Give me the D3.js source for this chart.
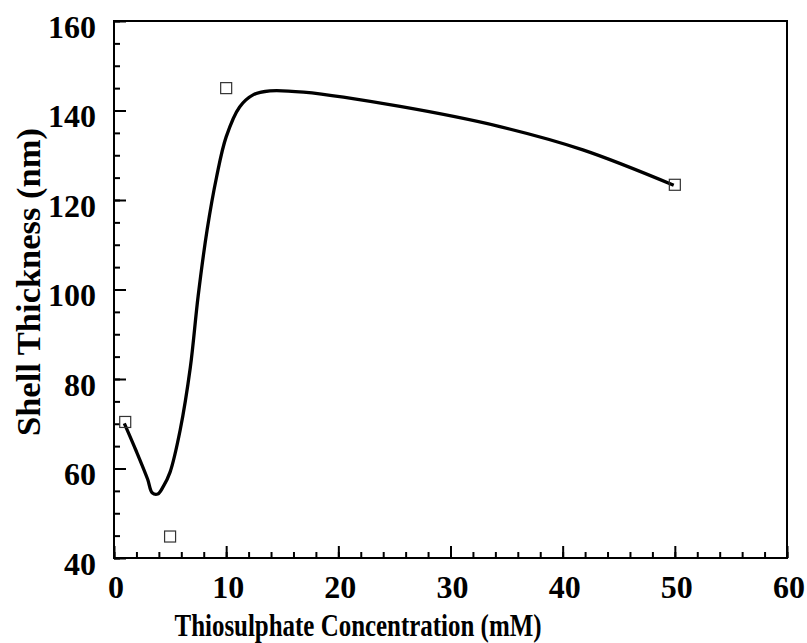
<!DOCTYPE html>
<html><head><meta charset="utf-8">
<script src="https://cdn.jsdelivr.net/npm/d3@7"></script>
<style>
html,body{margin:0;padding:0;background:#fff;}
svg{display:block;}
svg text{font-family:"Liberation Serif","Times New Roman",serif !important;font-weight:bold;fill:#000;}
</style></head>
<body>
<script>
// Measured data points
const pointX = [1, 5, 10, 50];
const pointY = [70.4, 44.8, 145, 123.4];
// Fitted smooth curve
const fitX = [0.92, 2.0, 3.0, 3.4, 3.9, 4.4, 5.0, 5.9, 6.8, 7.5, 8.3, 9.15, 10.0, 11.2, 12.4, 13.9, 16.9, 25.5, 34.4, 41.8, 49.9];
const fitY = [70.1, 63.8, 57.6, 54.6, 54.3, 56.0, 59.2, 68.6, 82.5, 98.5, 113.3, 125.2, 134.1, 140.8, 143.5, 144.4, 144.1, 140.9, 136.4, 131.2, 123.3];
// Ticks
const xMajor = [0, 10, 20, 30, 40, 50, 60];
const xMinor = d3.range(0, 61, 2);
const yMajor = [40, 60, 80, 100, 120, 140, 160];
const yMinor = d3.range(40, 161, 5);
const xTitle = "Thiosulphate Concentration (mM)";
const yTitle = "Shell Thickness (nm)";

const W = 807, H = 643;
const L = 114, R = 787, T = 21, B = 558;
const FONT = '"Liberation Serif","Times New Roman",serif';

const svg = d3.select("body").append("svg").attr("width", W).attr("height", H);
const x = d3.scaleLinear().domain([0, 60]).range([L, R]);
const y = d3.scaleLinear().domain([40, 160]).range([B, T]);

// minor ticks
svg.append("g").attr("transform", `translate(0,${B})`)
  .call(d3.axisBottom(x).tickValues(xMinor).tickSize(-6).tickFormat(""))
  .call(g => { g.select(".domain").remove(); g.selectAll("line").attr("stroke", "#000").attr("stroke-width", 2); });
svg.append("g").attr("transform", `translate(${L},0)`)
  .call(d3.axisLeft(y).tickValues(yMinor).tickSize(-6).tickFormat(""))
  .call(g => { g.select(".domain").remove(); g.selectAll("line").attr("stroke", "#000").attr("stroke-width", 2); });

// major ticks + labels
svg.append("g").attr("transform", `translate(0,${B})`)
  .call(d3.axisBottom(x).tickValues(xMajor).tickSizeInner(-12).tickSizeOuter(0).tickPadding(0).tickFormat(d3.format("d")))
  .call(g => {
    g.attr("font-family", FONT).attr("font-size", 32).attr("font-weight", "bold");
    g.select(".domain").remove();
    g.selectAll("line").attr("stroke", "#000").attr("stroke-width", 2);
    g.selectAll("text").attr("y", 40).attr("dy", null).attr("dx", 1.5)
      .style("font-family", FONT).style("font-size", "32px").style("font-weight", "bold").attr("fill", "#000");
  });
svg.append("g").attr("transform", `translate(${L},0)`)
  .call(d3.axisLeft(y).tickValues(yMajor).tickSizeInner(-12).tickSizeOuter(0).tickPadding(0).tickFormat(d3.format("d")))
  .call(g => {
    g.attr("font-family", FONT).attr("font-size", 32).attr("font-weight", "bold");
    g.select(".domain").remove();
    g.selectAll("line").attr("stroke", "#000").attr("stroke-width", 2);
    g.selectAll("text").attr("x", -18).attr("dy", "0.5em")
      .style("font-family", FONT).style("font-size", "32px").style("font-weight", "bold").attr("fill", "#000");
  });

// frame
svg.append("rect").attr("x", L).attr("y", T).attr("width", R - L).attr("height", B - T)
  .attr("fill", "none").attr("stroke", "#000").attr("stroke-width", 2);

// curve
const fit = fitX.map((d, i) => [d, fitY[i]]);
svg.append("path").datum(fit)
  .attr("d", d3.line().x(d => x(d[0])).y(d => y(d[1])).curve(d3.curveCatmullRom.alpha(0.5)))
  .attr("fill", "none").attr("stroke", "#000").attr("stroke-width", 3.3).attr("stroke-linejoin", "round");

// points
const pts = pointX.map((d, i) => [d, pointY[i]]);
svg.append("g").selectAll("rect").data(pts).join("rect")
  .attr("x", d => x(d[0]) - 5.5).attr("y", d => y(d[1]) - 5.5)
  .attr("width", 11).attr("height", 11)
  .attr("fill", "none").attr("stroke", "#333").attr("stroke-width", 1.2);

// titles
svg.append("text").attr("x", 358).attr("y", 636).attr("text-anchor", "middle")
  .attr("textLength", 367).attr("lengthAdjust", "spacingAndGlyphs")
  .style("font-family", FONT).style("font-size", "32px").text(xTitle);
svg.append("text").attr("transform", "translate(40,282) rotate(-90)").attr("text-anchor", "middle")
  .attr("textLength", 308).attr("lengthAdjust", "spacingAndGlyphs")
  .style("font-family", FONT).style("font-size", "33px").text(yTitle);
</script>
</body></html>
